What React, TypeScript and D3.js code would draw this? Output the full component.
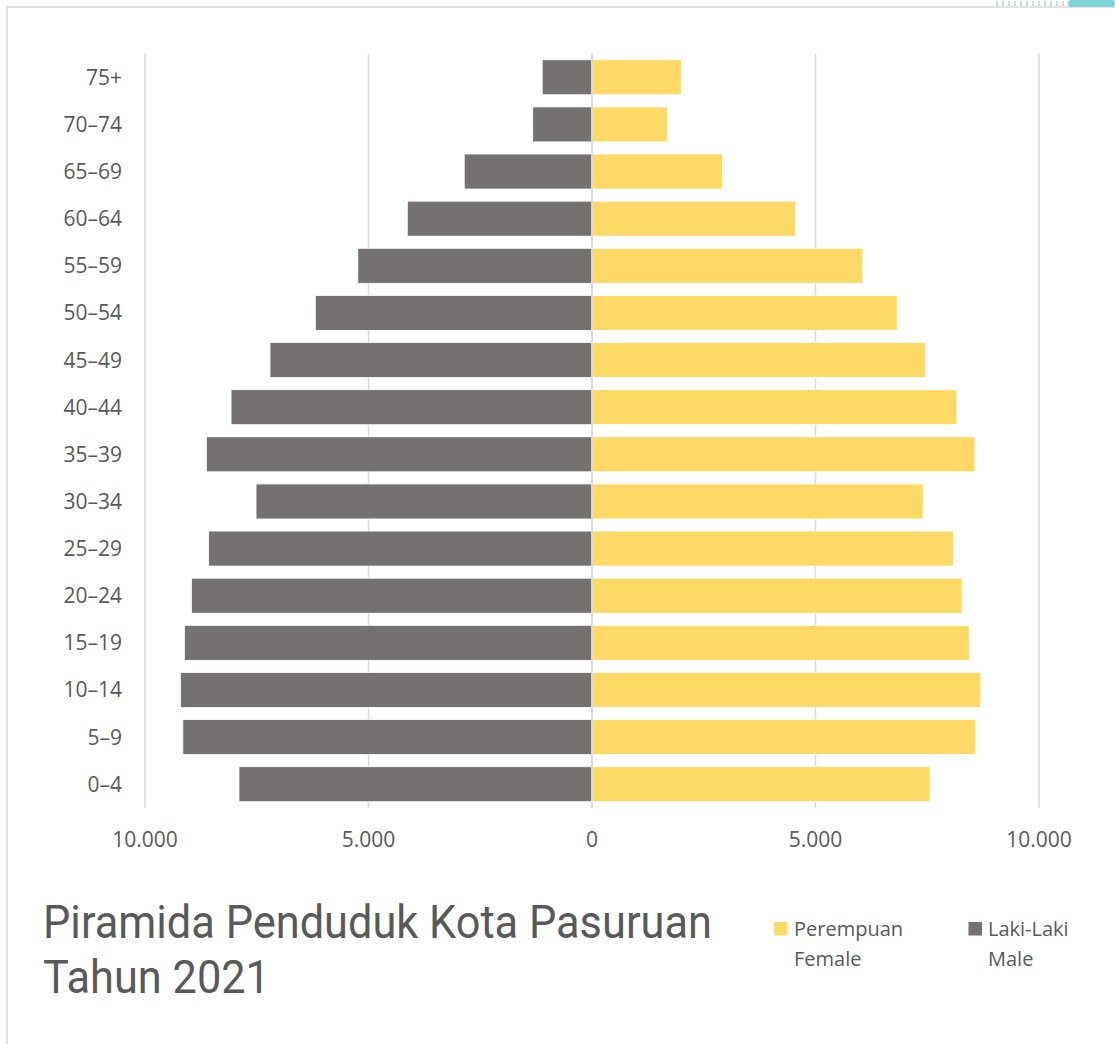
import * as d3 from "d3";

const ages = ["75+", "70–74", "65–69", "60–64", "55–59", "50–54", "45–49", "40–44", "35–39", "30–34", "25–29", "20–24", "15–19", "10–14", "5–9", "0–4"];
const male = [1114, 1326, 2858, 4132, 5239, 6190, 7203, 8075, 8627, 7516, 8576, 8962, 9119, 9208, 9153, 7898];
const female = [1999, 1693, 2923, 4555, 6058, 6829, 7462, 8162, 8565, 7409, 8088, 8280, 8440, 8699, 8585, 7563];
const ticks = [-10000, -5000, 0, 5000, 10000];

const GRAY = "#757171";
const YELLOW = "#FFD966";
const TEXT = "#595959";
const FONT = "'Open Sans', 'Noto Sans', sans-serif";
const TITLE_FONT = "Roboto, 'Open Sans', sans-serif";

const idFormat = d3.formatLocale({ decimal: ",", thousands: ".", grouping: [3], currency: ["", ""] }).format(",");

export default function App() {
  const W = 1115, H = 1044;
  const x = d3.scaleLinear().domain([-10000, 10000]).range([145, 1039]);
  const y = d3.scaleBand<string>().domain(ages).range([53.7, 807.8]).paddingInner(0.257).paddingOuter(0.1285);
  const bw = y.bandwidth();
  const [y0, y1] = y.range();

  return (
    <svg width={W} height={H} style={{ position: "absolute", left: 0, top: 0, background: "#fff" }}>
      {/* frame */}
      <rect x={7} y={7} width={W + 20} height={H + 20} fill="none" stroke="#d9d9d9" strokeWidth={1.5} />
      {/* corner watermark fragment */}
      <g>
        {d3.range(12).map((i) => (
          <rect key={i} x={996 + i * 6} y={1} width={2} height={5} fill="#c8dde0" />
        ))}
        <rect x={1068} y={0} width={47} height={7} rx={3} fill="#7ed3d6" />
      </g>

      {/* gridlines */}
      {ticks.map((t) => (
        <line key={t} x1={x(t)} x2={x(t)} y1={y0} y2={y1} stroke="#d9d9d9" strokeWidth={1.5} />
      ))}

      {/* bars */}
      {ages.map((a, i) => (
        <g key={a}>
          <rect x={x(-male[i])} y={y(a)} width={x(0) - x(-male[i])} height={bw} fill={GRAY} stroke="#fff" strokeWidth={0.8} />
          <rect x={x(0)} y={y(a)} width={x(female[i]) - x(0)} height={bw} fill={YELLOW} stroke="#fff" strokeWidth={0.8} />
        </g>
      ))}
      <line x1={x(0)} x2={x(0)} y1={y0} y2={y1} stroke="#d9d9d9" strokeWidth={1.5} />

      {/* category labels */}
      {ages.map((a) => (
        <text key={a} x={122} y={(y(a) ?? 0) + bw / 2 + 7.5} textAnchor="end" fill={TEXT} fontSize={21} fontFamily={FONT}>
          {a}
        </text>
      ))}

      {/* tick labels */}
      {ticks.map((t) => (
        <text key={t} x={x(t)} y={847} textAnchor="middle" fill={TEXT} fontSize={21} fontFamily={FONT}>
          {idFormat(Math.abs(t))}
        </text>
      ))}

      {/* title */}
      <text x={43} y={938} fill={TEXT} fontSize={46} fontFamily={TITLE_FONT} textLength={669} lengthAdjust="spacingAndGlyphs">
        Piramida Penduduk Kota Pasuruan
      </text>
      <text x={43} y={993} fill={TEXT} fontSize={46} fontFamily={TITLE_FONT} textLength={227} lengthAdjust="spacingAndGlyphs">
        Tahun 2021
      </text>

      {/* legend */}
      <rect x={774} y={922} width={13.5} height={13.5} fill={YELLOW} />
      <text fill={TEXT} fontSize={20} fontFamily={FONT}>
        <tspan x={794} y={936}>Perempuan</tspan>
        <tspan x={794} y={966}>Female</tspan>
      </text>
      <rect x={968.5} y={922} width={13.5} height={13.5} fill={GRAY} />
      <text fill={TEXT} fontSize={20} fontFamily={FONT}>
        <tspan x={988} y={936}>Laki-Laki</tspan>
        <tspan x={988} y={966}>Male</tspan>
      </text>
    </svg>
  );
}
